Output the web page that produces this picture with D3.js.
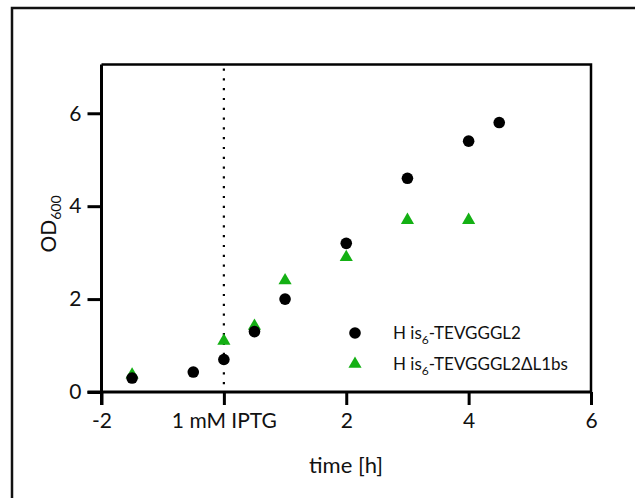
<!DOCTYPE html>
<html>
<head>
<meta charset="utf-8">
<script src="https://cdn.jsdelivr.net/npm/d3@7"></script>
<style>
  body { margin: 0; background: #fff; }
  svg { display: block; font-family: Lato, "Open Sans", sans-serif; }
  .axis path, .axis line { stroke: #000; stroke-width: 3; }
  .axis text { font-size: 21px; fill: #111; font-family: Lato, sans-serif; }
</style>
</head>
<body>
<svg width="635" height="498"></svg>
<script>
// data
var timeA = [-1.5, -0.5, 0, 0.5, 1, 2, 3, 4, 4.5];
var odA = [0.3, 0.43, 0.7, 1.3, 2.0, 3.2, 4.6, 5.4, 5.8];
var timeB = [-1.5, 0, 0.5, 1, 2, 3, 4];
var odB = [0.37, 1.1, 1.42, 2.4, 2.9, 3.7, 3.7];
var xTicks = [-2, 0, 2, 4, 6];
var yTicks = [0, 2, 4, 6];
var seriesNames = ["TEVGGGL2", "TEVGGGL2\u0394L1bs"];
var induction = 0;

var svg = d3.select("svg");

// outer frame, runs off the right and bottom edges
svg.append("rect")
    .attr("x", 12).attr("y", 8)
    .attr("width", 660).attr("height", 520)
    .attr("fill", "none").attr("stroke", "#111").attr("stroke-width", 2.5);

var margin = {top: 64.5, left: 101.5, right: 44, bottom: 106},
    width = 635 - margin.left - margin.right,
    height = 498 - margin.top - margin.bottom;

var g = svg.append("g").attr("transform", "translate(" + margin.left + "," + margin.top + ")");

var x = d3.scaleLinear().domain([-2, 6]).range([0, width]);
var y = d3.scaleLinear().domain([0, 7.05]).range([height, 0]);

// top and right sides of the plot box
g.append("path")
    .attr("d", "M0," + y(7.05) + "H" + x(6) + "V" + y(0))
    .attr("fill", "none").attr("stroke", "#000").attr("stroke-width", 2.5);

// dotted induction line
g.append("line")
    .attr("x1", x(induction)).attr("x2", x(induction))
    .attr("y1", y(7.05) + 4).attr("y2", y(0))
    .attr("stroke", "#000").attr("stroke-width", 2.2)
    .attr("stroke-dasharray", "2.2,7.6");

g.append("g")
    .attr("class", "axis")
    .attr("transform", "translate(0," + height + ")")
    .call(d3.axisBottom(x).tickValues(xTicks).tickSize(13).tickPadding(8)
      .tickFormat(function(d) { return d === 0 ? "1 mM IPTG" : d; }))
    .call(function(a) { a.select(".domain").attr("d", "M" + (-14) + ",0H" + width); });

g.append("g")
    .attr("class", "axis")
    .call(d3.axisLeft(y).tickValues(yTicks).tickSize(14).tickPadding(6).tickFormat(d3.format("d")))
    .call(function(a) { a.select(".domain").attr("d", "M0," + y(7.05) + "V" + (height + 13)); });

// series B: green triangles, sitting behind the circles
var tri = d3.symbol().type(d3.symbolTriangle).size(75);
g.selectAll(".ptB")
    .data(timeB.map(function(t, i) { return {t: t, v: odB[i]}; }))
  .enter().append("path")
    .attr("d", tri)
    .attr("transform", function(d) { return "translate(" + x(d.t) + "," + y(d.v) + ")"; })
    .attr("fill", "#14b014");

// series A: black circles
g.selectAll(".ptA")
    .data(timeA.map(function(t, i) { return {t: t, v: odA[i]}; }))
  .enter().append("circle")
    .attr("cx", function(d) { return x(d.t); })
    .attr("cy", function(d) { return y(d.v); })
    .attr("r", 5.8)
    .attr("fill", "#000");

// legend
var legend = g.append("g").attr("transform", "translate(" + (355 - margin.left) + "," + (333 - margin.top) + ")");
legend.append("circle").attr("cx", 0).attr("cy", 0).attr("r", 5.8).attr("fill", "#000");
legend.append("path").attr("d", tri).attr("transform", "translate(0,31)").attr("fill", "#14b014");

seriesNames.forEach(function(name, i) {
  var t = legend.append("text")
      .attr("x", 38).attr("y", i * 31 + 6)
      .attr("font-size", 17).attr("fill", "#111");
  t.append("tspan").text("H is");
  t.append("tspan").attr("font-size", 12).attr("dy", 5).text("6");
  t.append("tspan").attr("dy", -5).text("-" + name);
});

// axis titles
svg.append("text")
    .attr("x", 346).attr("y", 473)
    .attr("text-anchor", "middle")
    .attr("font-size", 22).attr("fill", "#111")
    .text("time [h]");

var yl = svg.append("text")
    .attr("transform", "translate(56,224) rotate(-90)")
    .attr("text-anchor", "middle")
    .attr("font-size", 21).attr("fill", "#111");
yl.append("tspan").text("OD");
yl.append("tspan").attr("font-size", 14).attr("dy", 5).text("600");
</script>
</body>
</html>
